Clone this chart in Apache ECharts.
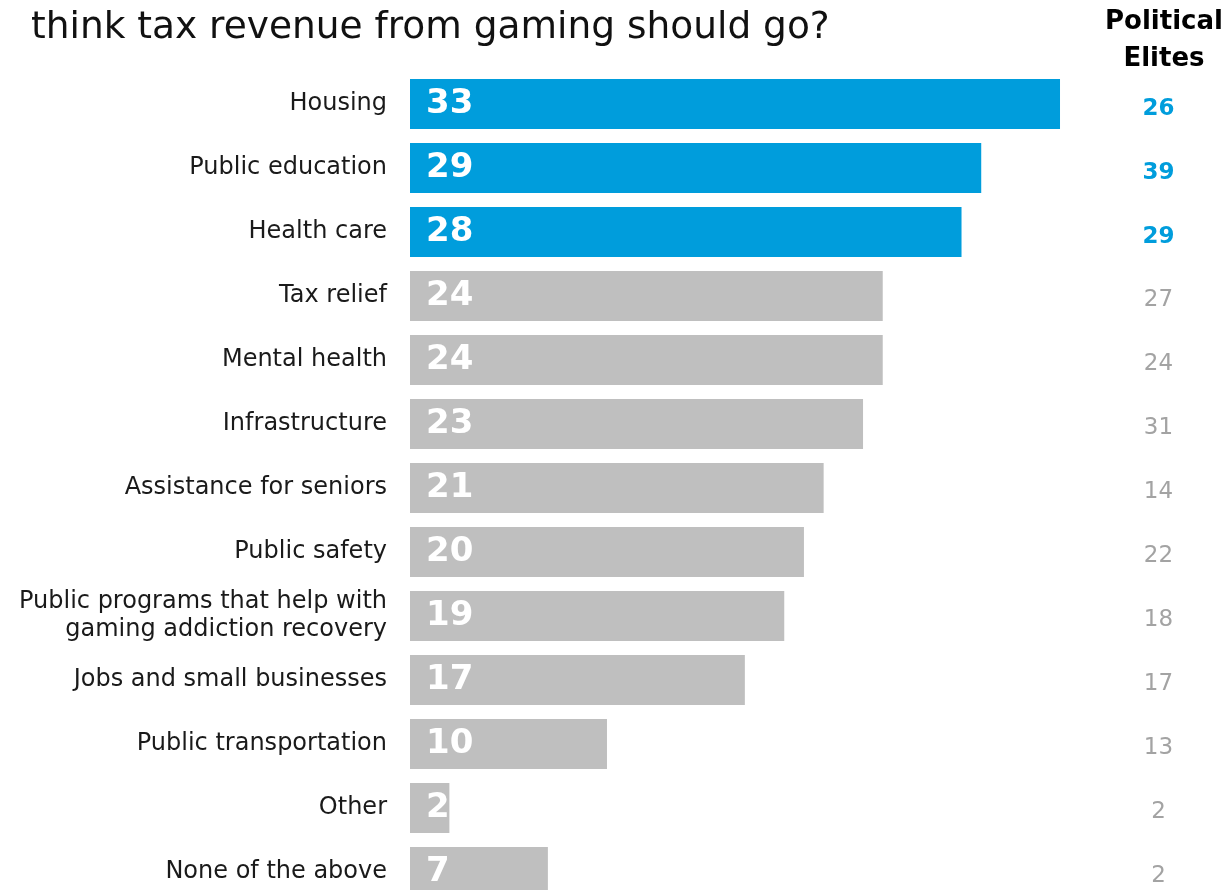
<!DOCTYPE html>
<html>
<head>
<meta charset="utf-8">
<script src="https://cdn.jsdelivr.net/npm/echarts@6/dist/echarts.min.js"></script>
<style>
  html, body { margin: 0; padding: 0; background: #fff; overflow: hidden; }
  #chart { width: 1222px; height: 904px; }
</style>
</head>
<body>
<div id="chart"></div>
<script>
// Where tax revenue from gaming should go (% of respondents)
const categories = [
  'Housing',
  'Public education',
  'Health care',
  'Tax relief',
  'Mental health',
  'Infrastructure',
  'Assistance for seniors',
  'Public safety',
  'Public programs that help with\ngaming addiction recovery',
  'Jobs and small businesses',
  'Public transportation',
  'Other',
  'None of the above'
];
const publicValues = [33, 29, 28, 24, 24, 23, 21, 20, 19, 17, 10, 2, 7];
const eliteValues  = [26, 39, 29, 27, 24, 31, 14, 22, 18, 17, 13, 2, 2];
const highlightCount = 3;

const BLUE = '#009ddc';
const GREY = '#bfbfbf';
const FONT = '"DejaVu Sans", "Noto Sans", sans-serif';

const chart = echarts.init(document.getElementById('chart'), null, { renderer: 'canvas' });

chart.setOption({
  animation: false,
  backgroundColor: '#ffffff',
  title: [
    {
      text: 'think tax revenue from gaming should go?',
      left: 26, top: 4,
      textStyle: { fontFamily: FONT, fontSize: 37.5, fontWeight: 'normal', color: '#111' }
    },
    {
      text: 'Political\nElites',
      left: 1159, top: -1, textAlign: 'center',
      textStyle: { fontFamily: FONT, fontSize: 26, fontWeight: 'bold', color: '#000', lineHeight: 37 }
    }
  ],
  grid: { left: 410, width: 748.5, top: 72, bottom: 0, containLabel: false },
  xAxis: { type: 'value', min: 0, max: 38, show: false },
  yAxis: [
    {
      type: 'category', inverse: true, data: categories,
      axisLine: { show: false }, axisTick: { show: false },
      axisLabel: {
        margin: 23, fontFamily: FONT, fontSize: 24, color: '#1a1a1a',
        align: 'right', lineHeight: 28, padding: [4, 0, 0, 0]
      }
    },
    {
      type: 'category', inverse: true, position: 'right',
      data: eliteValues.map(String),
      axisLine: { show: false }, axisTick: { show: false },
      axisLabel: {
        margin: 0, align: 'center', fontFamily: FONT, fontSize: 23,
        formatter: (v, i) => i < highlightCount ? '{hi|' + v + '}' : '{lo|' + v + '}',
        rich: {
          hi: { color: BLUE, fontWeight: 'bold', fontFamily: FONT, fontSize: 23, padding: [10, 0, 0, 0] },
          lo: { color: '#a3a3a3', fontFamily: FONT, fontSize: 23, padding: [8, 0, 0, 0] }
        }
      }
    }
  ],
  series: [{
    type: 'bar',
    yAxisIndex: 0,
    barWidth: 50,
    data: publicValues.map((v, i) => ({
      value: v,
      itemStyle: { color: i < highlightCount ? BLUE : GREY }
    })),
    label: {
      show: true, position: 'insideLeft', distance: 16, padding: [4, 0, 0, 0],
      fontFamily: FONT, fontSize: 34, fontWeight: 'bold', color: '#fff'
    }
  }]
});
</script>
</body>
</html>
